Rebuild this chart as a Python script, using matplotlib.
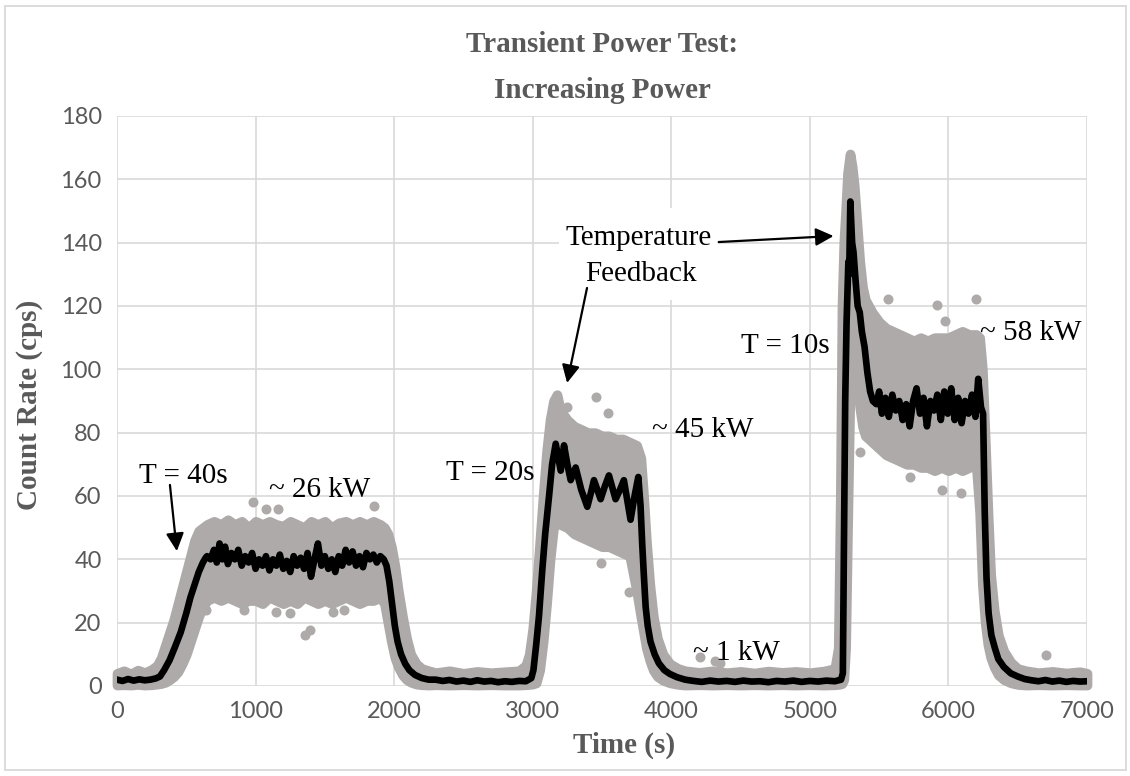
import matplotlib
matplotlib.use("Agg")
import matplotlib.pyplot as plt
from matplotlib.patches import Rectangle

# black line: smoothed count rate (time s, cps)
line_t = [0, 40, 80, 120, 160, 200, 240, 280, 310,
          340, 380, 420, 460, 500, 530, 560, 590, 620, 640,
          650, 675, 700, 720, 740, 760, 780, 800, 825, 850, 875, 900, 925, 950, 975,
          1000, 1025, 1050, 1075, 1100, 1125, 1150, 1175, 1200, 1225, 1250, 1275,
          1300, 1325, 1350, 1375, 1400, 1425, 1450, 1475, 1500, 1525, 1550, 1575,
          1600, 1625, 1650, 1675, 1700, 1725, 1750, 1775, 1800, 1825, 1850, 1875,
          1900, 1925, 1945,
          1965, 1985, 2005, 2025, 2050, 2080, 2110, 2150, 2200, 2250,
          2300, 2350, 2400, 2450, 2500, 2550, 2600, 2650, 2700, 2750, 2800, 2850,
          2900, 2950, 2990,
          3005, 3025, 3045, 3068, 3090, 3118, 3140, 3166,
          3202, 3226, 3250, 3274, 3310, 3350, 3394, 3420, 3442, 3490, 3520, 3550,
          3598, 3630, 3658, 3706, 3735, 3762, 3778,
          3790, 3802, 3815, 3830, 3850, 3880, 3910, 3950, 3990, 4040, 4100,
          4160, 4220, 4280, 4340, 4400, 4460, 4520, 4580, 4640, 4700, 4760, 4820,
          4880, 4940, 5000, 5060, 5120, 5180, 5225,
          5238, 5243, 5248, 5255, 5265, 5278, 5284, 5292, 5305, 5315, 5330, 5345,
          5360, 5375, 5395, 5415, 5435, 5455,
          5480, 5500, 5520, 5545, 5570, 5595, 5620, 5645, 5670, 5695, 5720, 5745,
          5770, 5795, 5820, 5845, 5870, 5895, 5920, 5945, 5970, 5995, 6020, 6045,
          6070, 6095, 6120, 6145, 6170, 6195, 6215, 6235, 6250,
          6262, 6275, 6290, 6310, 6335, 6360, 6400, 6450, 6500, 6550, 6600,
          6650, 6700, 6750, 6800, 6850, 6900, 6950, 7000]
line_y = [2.0, 1.6, 2.2, 1.7, 2.1, 1.8, 2.0, 2.4, 3.0,
          5.0, 8.2, 12.5, 17, 23, 28, 32, 36, 39, 40.5,
          41, 40, 43, 39, 45, 40, 44, 38.5, 42, 40, 43, 38, 41, 39, 42,
          37, 40, 38, 41, 36.5, 40, 38, 41.5, 37, 39.5, 36, 41,
          38, 40.5, 37, 42, 34.5, 40, 45, 38, 41, 37, 40, 36,
          41, 38, 43, 39, 42.5, 38, 41, 37.5, 42, 40, 41.5, 39,
          41, 40, 38,
          33, 26, 19, 14, 10, 7, 5, 3.5, 2.5, 2.0,
          2.0, 1.6, 1.9, 1.4, 1.7, 1.3, 1.8, 1.4, 1.6, 1.2, 1.5, 1.3,
          1.6, 1.5, 2.5,
          5, 13, 22, 36, 48, 60, 70, 76.5,
          68, 76, 70, 65, 69, 62, 56.6, 61, 65, 59, 63, 66.5,
          59, 62, 65, 52.5, 60, 66, 57,
          45, 35, 25, 19, 14, 10, 7.2, 5, 3.8, 2.8, 2.0,
          1.6, 1.3, 1.7, 1.4, 1.6, 1.3, 1.7, 1.4, 1.5, 1.2, 1.6, 1.4,
          1.7, 1.3, 1.6, 1.4, 1.7, 1.5, 2.0,
          4, 30, 60, 90, 115, 134, 130, 153, 140, 137, 128, 120,
          118, 112, 107, 99, 93, 90,
          89, 93, 86, 91, 85, 92, 87, 90, 84, 89, 82, 90,
          94, 86, 91, 82, 90, 87, 92, 84, 93, 86, 94, 84,
          91, 83, 90, 86, 92, 85, 97, 88, 86,
          55, 34, 23, 16, 12, 8.5, 6, 4, 3, 2.2, 1.8,
          1.5, 1.9, 1.4, 1.7, 1.3, 1.6, 1.4, 1.5]

# grey raw points: spread of the cloud (lower / upper edge)
band_t = [0, 50, 100, 150, 200, 250, 290, 320, 350, 380, 410, 440, 470, 500, 530,
          560, 590, 620, 650, 700, 750, 800, 850, 900, 950, 1000, 1050, 1100, 1150,
          1200, 1250, 1300, 1350, 1400, 1450, 1500, 1550, 1600, 1650, 1700, 1750,
          1800, 1850, 1900, 1930, 1955, 1980, 2005, 2030, 2060, 2090, 2120, 2160,
          2200, 2250, 2300, 2400, 2500, 2600, 2700, 2800, 2900, 2950, 2975, 3000,
          3025, 3050, 3075, 3100, 3125, 3150, 3175, 3200, 3250, 3300, 3350, 3400,
          3450, 3500, 3550, 3600, 3650, 3700, 3750, 3780, 3800, 3820, 3845, 3870,
          3900, 3940, 3990, 4050, 4100, 4200, 4300, 4400, 4500, 4600, 4700, 4800,
          4900, 5000, 5100, 5180, 5205, 5220, 5232, 5245, 5258, 5272, 5290, 5305,
          5320, 5340, 5360, 5380, 5400, 5450, 5500, 5550, 5600, 5650, 5700, 5750,
          5800, 5850, 5900, 5950, 6000, 6050, 6100, 6150, 6200, 6225, 6245, 6265,
          6285, 6305, 6330, 6360, 6400, 6450, 6500, 6560, 6650, 6750, 6850, 6950, 7000]
band_lo = [0.3, 0.4, 0.3, 0.5, 0.3, 0.4, 0.6, 0.8, 1.2, 2.0, 3.0, 4.5, 7, 10, 14,
           18, 22, 25, 27, 28, 27, 28, 27, 26, 27, 27, 26, 28, 27,
           26, 27, 26, 28, 27, 26, 27, 26, 27, 28, 27, 26,
           27, 27, 28, 26, 20, 14, 9, 6, 3.5, 2, 1.2, 0.6,
           0.4, 0.3, 0.4, 0.3, 0.4, 0.3, 0.4, 0.3, 0.3, 0.4, 0.5, 0.6,
           1.0, 5, 14, 26, 40, 50, 52, 51, 50, 48, 47, 46,
           45, 44, 44, 43, 42, 41, 30, 22, 17, 12, 8, 5,
           3, 1.8, 1.0, 0.5, 0.3, 0.4, 0.3, 0.4, 0.3, 0.4, 0.3, 0.4,
           0.3, 0.4, 0.3, 0.4, 0.5, 0.6, 0.8, 2, 12, 50, 95, 112,
           108, 98, 88, 82, 79, 77, 75, 73, 72, 71, 70, 70,
           69, 69, 68, 69, 68, 69, 68, 69, 70, 55, 32, 20,
           13, 9, 6, 3.5, 2, 1, 0.5, 0.3, 0.4, 0.3, 0.4, 0.3, 0.3]
band_hi = [4.0, 4.8, 3.8, 5.0, 4.2, 5.2, 6.5, 9, 13, 17, 21, 26, 31, 36, 41,
           46, 49, 50, 51, 52, 51, 52.5, 51, 52, 50, 52, 51, 52, 51,
           50.5, 52, 51, 50, 52, 51, 52, 50, 51.5, 52, 51, 52,
           51, 52, 51, 50, 48, 44, 38, 30, 22, 15, 10, 7,
           5.5, 4.8, 4.2, 4.8, 4.0, 4.6, 4.2, 4.5, 4.8, 6.5, 10, 18,
           30, 45, 60, 74, 84, 90, 92, 87, 84, 82, 81, 80,
           80, 79, 79, 78, 78, 77, 76, 72, 60, 46, 32, 22,
           15, 10, 7, 5.5, 4.8, 4.3, 4.8, 4.2, 4.6, 4.1, 4.7, 4.3,
           4.6, 4.2, 4.7, 5.5, 12, 60, 120, 140, 150, 162, 168, 164,
           158, 146, 134, 126, 122, 118, 115, 113, 112, 111, 110, 109,
           110, 109, 110, 110, 110, 111, 112, 111, 111, 110, 100, 78,
           55, 35, 24, 16, 11, 7.5, 5.5, 4.8, 4.2, 4.6, 4.1, 4.5, 4.0]

# isolated grey points away from the cloud
out_t = [980, 1078, 1160, 1858, 1354, 1390, 640, 917, 1150, 1245, 1560, 1640,
         3250, 3455, 3543, 3490, 3694,
         5567, 5915, 5975, 6198, 5363, 5723, 5951, 6090,
         4210, 4318, 4354, 6707]
out_y = [58.2, 56, 56, 56.8, 16.1, 17.7, 24, 24, 23.5, 23, 23.5, 24,
         88, 91.4, 86.1, 38.7, 29.8,
         122.2, 120.3, 115.3, 122.2, 74, 66, 61.9, 60.8,
         9.3, 7.8, 7.2, 9.8]

xticks = [0, 1000, 2000, 3000, 4000, 5000, 6000, 7000]
yticks = [0, 20, 40, 60, 80, 100, 120, 140, 160, 180]

grey = "#AEAAAA"
txtgrey = "#595959"
serif = "Liberation Serif"

fig = plt.figure(figsize=(11.3, 7.76), dpi=100)
ax = fig.add_axes([117 / 1130, 90 / 776, 970 / 1130, 570 / 776])

ax.set_xlim(0, 7000)
ax.set_ylim(0, 180)
ax.set_xticks(xticks)
ax.set_yticks(yticks)
ax.grid(True, color="#D9D9D9", lw=1.2, zorder=0)
ax.set_axisbelow(True)
for s in ax.spines.values():
    s.set_visible(False)
ax.tick_params(length=0, labelsize=17, labelcolor=txtgrey, pad=11)
for lab in ax.get_xticklabels() + ax.get_yticklabels():
    lab.set_fontfamily("Lato")

# grey cloud
ax.fill_between(band_t, band_lo, band_hi, facecolor=grey, edgecolor=grey,
                lw=7, joinstyle="round", zorder=2, clip_on=False)
ax.scatter(out_t, out_y, s=52, color=grey, lw=0, zorder=2, clip_on=False)

# black line
ax.plot(line_t, line_y, color="black", lw=4.8, solid_joinstyle="round", zorder=3)

# white box behind the Temperature Feedback label
ax.add_patch(Rectangle((3190, 122), 1150, 29, facecolor="white", edgecolor="none", zorder=1))

fs = 21
ax.text(475, 64, "T = 40s", fontsize=fs, family=serif, ha="center", va="baseline", zorder=5)
ax.text(1462, 59.7, "~ 26 kW", fontsize=fs, family=serif, ha="center", va="baseline", zorder=5)
ax.text(2693, 65, "T = 20s", fontsize=fs, family=serif, ha="center", va="baseline", zorder=5)
ax.text(4224, 78.6, "~ 45 kW", fontsize=fs, family=serif, ha="center", va="baseline", zorder=5)
ax.text(3766, 139.3, "Temperature", fontsize=fs, family=serif, ha="center", va="baseline", zorder=5)
ax.text(3780, 127.8, "Feedback", fontsize=fs, family=serif, ha="center", va="baseline", zorder=5)
ax.text(4821, 105.2, "T = 10s", fontsize=fs, family=serif, ha="center", va="baseline", zorder=5)
ax.text(6597, 109.3, "~ 58 kW", fontsize=fs, family=serif, ha="center", va="baseline", zorder=5)
ax.text(4469, 8.2, "~ 1 kW", fontsize=fs, family=serif, ha="center", va="baseline", zorder=5)

arw = dict(arrowstyle="-|>,head_length=0.6,head_width=0.3", color="black", lw=1.6,
           mutation_scale=18, shrinkA=0, shrinkB=0)
ax.annotate("", xy=(432, 42.6), xytext=(382, 63.5), arrowprops=arw, zorder=5)
ax.annotate("", xy=(3248, 95.7), xytext=(3392, 125.7), arrowprops=arw, zorder=5)
ax.annotate("", xy=(5171, 142.1), xytext=(4342, 140.2), arrowprops=arw, zorder=5)

# title and axis titles
fig.text(602 / 1130, 1 - 45 / 776, "Transient Power Test:", fontsize=21, family=serif,
         weight="bold", color=txtgrey, ha="center", va="center")
fig.text(602 / 1130, 1 - 90 / 776, "Increasing Power", fontsize=21, family=serif,
         weight="bold", color=txtgrey, ha="center", va="center")
fig.text(30 / 1130, 1 - 405 / 776, "Count Rate (cps)", fontsize=21, family=serif,
         weight="bold", color=txtgrey, ha="center", va="center", rotation=90)
fig.text(624 / 1130, 1 - 745 / 776, "Time (s)", fontsize=21, family=serif,
         weight="bold", color=txtgrey, ha="center", va="center")

# outer chart border
fig.add_artist(Rectangle((5 / 1130, 6 / 776), 1121 / 1130, 764 / 776, transform=fig.transFigure,
                         fill=False, edgecolor="#D9D9D9", lw=1.3))

fig.savefig("out.png", dpi=100)
